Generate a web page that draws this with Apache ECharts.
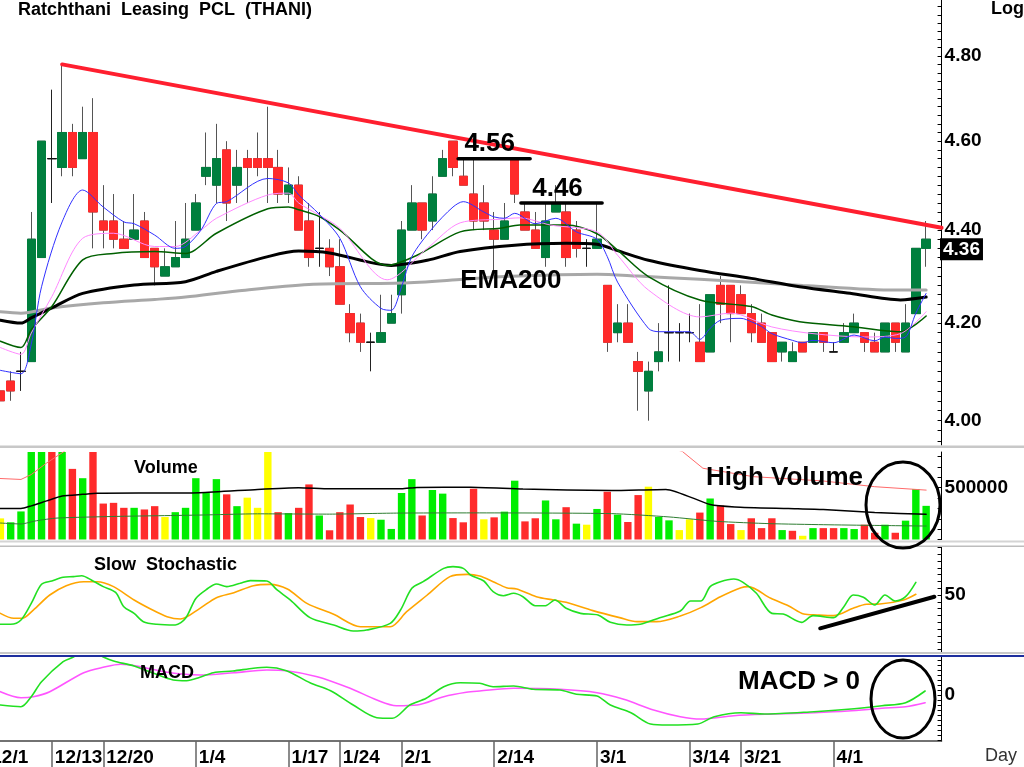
<!DOCTYPE html>
<html>
<head>
<meta charset="utf-8">
<title>THANI</title>
<script src="https://cdn.jsdelivr.net/npm/echarts/dist/echarts.min.js"></script>
<style>
html, body {margin: 0; padding: 0; background: #fff;}
#main {width: 1024px; height: 767px;}
</style>
</head>
<body>
<div id="main"></div>
<script>
// daily candles, index 0..90
const Open = [4.06,4.08,4.10,4.12,4.34,4.56,4.54,4.62,4.56,4.62,
	4.42,4.42,4.38,4.38,4.42,4.36,4.30,4.32,4.34,4.40,
	4.52,4.50,4.58,4.50,4.56,4.56,4.56,4.54,4.48,4.50,
	4.42,4.36,4.36,4.32,4.22,4.20,4.16,4.16,4.20,4.26,
	4.40,4.46,4.42,4.52,4.60,4.52,4.48,4.46,4.40,4.38,
	4.56,4.44,4.40,4.34,4.44,4.44,4.40,4.36,4.36,4.28,
	4.18,4.20,4.12,4.06,4.12,4.18,4.18,4.18,4.16,4.14,
	4.28,4.28,4.26,4.22,4.20,4.18,4.14,4.12,4.16,4.16,
	4.18,4.14,4.16,4.18,4.18,4.16,4.14,4.20,4.14,4.22,
	4.36];
const Close = [4.04,4.06,4.10,4.38,4.60,4.56,4.62,4.54,4.62,4.44,
	4.40,4.38,4.36,4.40,4.34,4.32,4.32,4.34,4.38,4.46,
	4.54,4.56,4.46,4.54,4.54,4.54,4.54,4.48,4.50,4.40,
	4.34,4.36,4.32,4.24,4.18,4.16,4.16,4.18,4.22,4.40,
	4.46,4.40,4.48,4.56,4.54,4.50,4.42,4.42,4.38,4.42,
	4.48,4.40,4.36,4.42,4.46,4.34,4.36,4.36,4.38,4.16,
	4.20,4.16,4.10,4.10,4.14,4.18,4.18,4.18,4.12,4.26,
	4.24,4.22,4.22,4.18,4.16,4.12,4.16,4.14,4.14,4.18,
	4.16,4.14,4.18,4.20,4.16,4.14,4.20,4.16,4.20,4.36,
	4.38];
const Low = [4.04,4.04,4.06,4.12,4.34,4.46,4.52,4.52,4.56,4.36,
	4.36,4.36,4.36,4.38,4.34,4.28,4.30,4.32,4.34,4.40,
	4.50,4.46,4.42,4.46,4.46,4.52,4.46,4.46,4.46,4.40,
	4.32,4.32,4.30,4.24,4.16,4.14,4.10,4.16,4.20,4.22,
	4.40,4.38,4.40,4.52,4.52,4.50,4.40,4.40,4.30,4.38,
	4.46,4.40,4.36,4.32,4.44,4.32,4.34,4.32,4.36,4.14,
	4.16,4.16,4.02,4.00,4.10,4.12,4.12,4.16,4.12,4.14,
	4.20,4.16,4.22,4.16,4.16,4.12,4.12,4.12,4.14,4.16,
	4.14,4.14,4.16,4.18,4.14,4.14,4.14,4.14,4.14,4.22,
	4.32];
const High = [4.06,4.10,4.14,4.44,4.60,4.72,4.78,4.64,4.68,4.70,
	4.50,4.48,4.42,4.48,4.44,4.36,4.36,4.42,4.46,4.48,
	4.62,4.64,4.60,4.58,4.58,4.62,4.68,4.58,4.54,4.52,
	4.46,4.44,4.38,4.38,4.24,4.22,4.18,4.26,4.26,4.42,
	4.50,4.46,4.52,4.58,4.60,4.56,4.56,4.50,4.44,4.46,
	4.56,4.46,4.44,4.46,4.50,4.46,4.42,4.38,4.46,4.28,
	4.24,4.24,4.14,4.12,4.20,4.28,4.20,4.22,4.24,4.26,
	4.30,4.28,4.28,4.24,4.22,4.18,4.16,4.16,4.16,4.18,
	4.18,4.16,4.20,4.22,4.18,4.18,4.20,4.20,4.24,4.36,
	4.42];
const lastLabel = 4.36;

// moving averages: [day, price]
const ema5 = [[0,4.102],[2,4.095],[3,4.156],[4,4.277],[6,4.418],[8,4.489],[10,4.451],[12,4.418],[13,4.414],[15,4.389],[17,4.36],[18,4.364],[19.5,4.40],[21,4.459],[22,4.463],[26,4.515],[28,4.505],[29,4.478],[31,4.435],[33,4.382],[35,4.277],[37,4.231],[38,4.227],[39,4.277],[40,4.342],[42,4.404],[44,4.451],[45,4.463],[47,4.44],[48,4.429],[49,4.426],[50,4.437],[52,4.414],[54,4.426],[56,4.396],[58,4.38],[59,4.342],[60,4.287],[63,4.189],[64,4.182],[67,4.182],[68,4.166],[69,4.189],[70,4.206],[72,4.21],[73,4.203],[74,4.193],[75,4.178],[77,4.164],[78,4.159],[79,4.164],[81,4.159],[83,4.175],[85,4.163],[86,4.171],[87,4.168],[88,4.171],[89,4.221],[90,4.263]];
const ema10 = [[0,4.149],[2,4.135],[3,4.179],[5,4.256],[8,4.382],[11,4.393],[15,4.364],[17,4.364],[19.5,4.40],[21,4.426],[26,4.478],[28,4.482],[29,4.46],[31,4.433],[33,4.404],[37.6,4.292],[41.5,4.36],[44.7,4.416],[48.6,4.424],[50.5,4.427],[53.5,4.411],[58,4.396],[60,4.345],[63,4.27],[68,4.213],[71,4.221],[75,4.192],[79,4.178],[84,4.171],[87.5,4.178],[90,4.224]];
const ema25 = [[0,4.162],[2,4.149],[3,4.186],[5,4.235],[8,4.335],[11,4.349],[15,4.353],[18,4.349],[21,4.393],[26,4.447],[28,4.451],[29,4.445],[31,4.43],[33,4.40],[37.6,4.323],[40.5,4.345],[44.7,4.396],[48.6,4.404],[50.5,4.411],[55,4.411],[58,4.392],[60,4.356],[63,4.299],[68,4.249],[73,4.235],[75,4.217],[77.7,4.203],[82.6,4.193],[87.5,4.182],[90,4.215]];
const ema75 = [[0,4.206],[2,4.20],[3,4.211],[5,4.232],[8,4.263],[13,4.281],[18,4.288],[21,4.31],[26,4.342],[29,4.354],[32,4.35],[38,4.323],[41.5,4.334],[44.7,4.353],[50,4.367],[55,4.371],[58,4.369],[60,4.355],[63,4.334],[68,4.312],[73,4.295],[77.7,4.277],[82.6,4.263],[87.5,4.249],[90,4.255]];
const ema200 = [[0,4.224],[2,4.221],[5,4.232],[10,4.243],[15,4.25],[18,4.255],[23,4.268],[30,4.282],[39,4.285],[45,4.293],[49,4.299],[58,4.304],[62,4.30],[68,4.293],[78,4.28],[87,4.27],[90,4.27]];
const trendLine = [[6,4.78],[91.5,4.405]];
const level456 = [[44.5,4.56],[51.5,4.56]];
const level446 = [[50.6,4.46],[58.5,4.46]];

// volume, direction 1 up / -1 down / 0 flat
const volume = [204000,166000,271000,900000,900000,900000,900000,682000,592000,900000,
	347000,354000,306000,306000,290000,322000,217000,264000,306000,592000,
	449000,583000,436000,322000,404000,306000,900000,264000,255000,306000,
	532000,232000,89000,264000,338000,217000,207000,191000,102000,449000,
	583000,232000,478000,443000,207000,166000,490000,195000,214000,269000,
	568000,175000,205000,377000,195000,312000,153000,143000,295000,461000,
	240000,169000,429000,510000,218000,185000,91000,195000,260000,396000,
	328000,149000,91000,205000,110000,205000,91000,84000,36000,110000,
	110000,110000,110000,101000,143000,65000,143000,65000,182000,487000,
	325000];
const volDir = [0,1,1,1,1,-1,1,-1,1,-1,
	-1,-1,-1,1,-1,-1,0,1,1,1,
	1,1,-1,1,0,0,0,-1,1,-1,
	-1,1,-1,-1,-1,-1,0,1,1,1,
	1,-1,1,1,-1,-1,-1,0,-1,1,
	1,-1,-1,1,1,-1,1,0,1,-1,
	1,-1,-1,0,1,1,0,0,-1,1,
	-1,-1,0,-1,-1,-1,1,-1,0,1,
	-1,-1,1,1,-1,-1,1,-1,1,1,
	1];
const volMaLong = [[0,299000],[2,299000],[3,325000],[4.5,373000],[6,420000],[8,436000],[9.4,446000],[19.4,452000],[25,484000],[29,500000],[32,490000],[39,490000],[40.5,503000],[45.7,505000],[50.8,487000],[59.4,474000],[64.7,484000],[69,338000],[71.4,315000],[76.6,299000],[80,289000],[85,260000],[90,244000]];
const volMaShort = [[0,159000],[2,150000],[3.5,181000],[5.5,207000],[11.3,223000],[19.4,236000],[25,248000],[32,245000],[38.5,255000],[46,257000],[59.4,250000],[65,218000],[69.7,175000],[74.8,153000],[80,143000],[85,136000],[90,130000]];
const volMaTop = [[0,589000],[2,580000],[3,627000],[4.5,739000],[5.7,818000],[6.5,870000],[9,980000],[62,980000],[66.3,850000],[68.3,688000],[73.2,607000],[80,565000],[85,510000],[90,477000]];

// slow stochastic
const stochK = [[0,6.9],[1,6.9],[2,13.2],[3,37.7],[4,65.7],[5,70.6],[6.1,76],[7.1,77],[7.9,78.4],[9,70.6],[10,62.3],[11.2,53.9],[12,32.8],[13,23],[13.9,10.8],[15.2,6.9],[17,5.9],[18,15.7],[19,45],[20.1,58.8],[21,66.2],[22,62.3],[23.3,67.2],[24.3,71.1],[25.9,70.6],[26.9,57.4],[28.2,42.6],[30.1,16.7],[32.4,5.9],[34.3,-2.9],[35.6,-1.5],[37.9,8.3],[38.9,27.9],[40,59.8],[41.1,69.6],[43.1,89.2],[44,91.7],[45,89.2],[45.7,79.4],[47,70.6],[47.9,54.9],[48.9,49],[49.9,52.5],[50.8,47.5],[52,34.3],[53,34.3],[53.9,42.6],[55,30.4],[56.4,23],[58.1,20.6],[59.3,9.8],[60.9,5.9],[62.2,6.9],[64.1,16.7],[66.1,26.5],[67.1,41.2],[68.1,41.2],[69,62.3],[70,69.6],[71.3,73.5],[72.2,68.6],[73.5,52.5],[75,23],[76.1,22],[77.9,9.8],[79,19.6],[81,16.7],[82,32.8],[82.9,50],[83.9,46.6],[85,35.3],[86,50],[87,41.2],[88,47.5],[89,68.6]];
const stochD = [[0,23],[1.3,15.7],[2.1,15.7],[3.2,27.9],[4.8,50],[6.4,63.7],[8.1,69.6],[9.4,69.6],[11,62.3],[13,42.6],[14.6,29.4],[16.2,18.1],[17.5,14.7],[19.4,30.4],[21,46.1],[22.7,53.4],[24.6,63.7],[26.2,65.7],[27.9,58.8],[29.8,37.7],[32.4,21.6],[35,3.4],[37.9,3.4],[39.5,25.5],[41.5,50],[43.7,77],[45.4,80.4],[46.6,77.9],[47.9,69.6],[49.2,60.8],[50.2,58.8],[52.1,47.5],[53.8,42.6],[55,39.2],[57.6,27],[60.2,16.7],[61.9,10.8],[63.8,10.8],[66.1,19.1],[68.1,31.4],[70,47.5],[72,60.8],[72.7,62.3],[74.9,45.1],[76.6,34.3],[78.1,22],[79.4,20.6],[81,19.6],[82.9,30.4],[84.2,36.3],[85.5,36.8],[87.8,42.6],[89,51]];
const stochTrend = [[79.7,1.0],[90.8,47.5]];

// MACD
const macd = [[0,-0.010],[2,-0.0117],[3,-0.0017],[4,0.0133],[6.1,0.0333],[7.1,0.038],[8.5,0.046],[10,0.038],[11,0.034],[13,0.029],[14.9,0.0217],[16.8,0.015],[18.1,0.0143],[19.4,0.0177],[20.7,0.0223],[22.6,0.024],[24.6,0.0267],[25.9,0.0277],[27.8,0.0243],[30.1,0.0123],[32.1,0.0043],[34.3,-0.010],[36.6,-0.0227],[38.1,-0.0233],[39.8,-0.010],[41.4,-0.0033],[43.1,0.0083],[44.7,0.0123],[46.6,0.0117],[47.9,0.0083],[49.9,0.009],[51.8,0.0057],[54.4,0.005],[56,0.0007],[58,-0.001],[59.3,-0.010],[61.3,-0.0177],[63.2,-0.029],[64.9,-0.030],[67.8,-0.029],[69.4,-0.0217],[72,-0.0177],[74.3,-0.019],[79.1,-0.0167],[82.4,-0.0143],[85.7,-0.0107],[88,-0.0077],[89.9,0.004]];
const signal = [[0,0.0033],[2,-0.0027],[3.2,-0.0017],[4.8,0.0033],[8.1,0.0223],[10,0.0277],[11.7,0.0307],[13.6,0.0283],[16.2,0.0227],[19.4,0.020],[22.7,0.0223],[25.9,0.025],[27.8,0.0243],[30.8,0.0183],[34,0.0067],[36.6,-0.005],[38.5,-0.0107],[40.5,-0.010],[43.1,-0.0017],[45.3,0.0027],[46.6,0.004],[49.9,0.0067],[54.4,0.0057],[58,0.0023],[60.6,-0.0043],[63.5,-0.015],[66.1,-0.0217],[68.1,-0.024],[71.3,-0.0207],[75.2,-0.019],[79.1,-0.0177],[82.4,-0.016],[85.7,-0.0133],[88,-0.0117],[89.9,-0.0077]];

// date ticks (first one sits just off the left edge)
const tickIdx = [-1, 5, 10, 19, 28, 33, 39, 48, 58, 67, 72, 81];
const tickLbl = ['12/1', '12/13', '12/20', '1/4', '1/17', '1/24', '2/1', '2/14', '3/1', '3/14', '3/21', '4/1'];

const FONT = '"Liberation Sans", Arial, sans-serif';
const UP = '#007F3E', DN = '#FF2B2B', WICK = '#555555';
const ln = v => Math.log(v);
const lnPts = pts => pts.map(p => [p[0], ln(p[1])]);
const range = (a, b, s) => { const r = []; for (let v = a; v <= b + s / 2; v += s) r.push(+v.toFixed(6)); return r; };

const cats = [];
for (let c = 0; c < 93; c++) cats.push('c' + c);

const wickData = Open.map((o, i) => [i + 1, ln(o), ln(Close[i]), ln(Low[i]), ln(High[i])]);
const bodyData = Open.map((o, i) => [i + 1, ln(o), ln(Close[i]), ln(Math.min(o, Close[i])), ln(Math.max(o, Close[i]))]);
const volColor = {'1': '#00EE00', '-1': '#FF2B2B', '0': '#FFFF00'};
const volData = volume.map((v, i) => ({value: [i + 1, v], itemStyle: {color: volColor[volDir[i]]}}));
// label of the first date is nudged a little further left than its tick
const labelIdx = tickIdx.map((t, k) => k === 0 ? t - 0.18 : t);

const G = {left: -15.03, width: 956.6, containLabel: false, outerBoundsMode: 'none'};
const rightLabel = {show: true, margin: 3, color: '#000', fontSize: 19, fontWeight: 'bold', fontFamily: FONT};
const rightLine = {show: true, onZero: false, lineStyle: {color: '#000', width: 1}};
const rightTick = {show: true, inside: true, length: 4, lineStyle: {color: '#000', width: 1}};

function line(xi, yi, data, color, width, smooth, z) {
	return {
		type: 'line', xAxisIndex: xi, yAxisIndex: yi, data: data, symbol: 'none', showSymbol: false,
		smooth: smooth, silent: true, z: z || 3, lineStyle: {color: color, width: width, cap: 'round'}
	};
}

function text(str, x, y, size, align, weight, color) {
	return {
		type: 'text', x: x, y: y, z: 100, silent: true,
		style: {text: str, font: (weight || 'bold') + ' ' + size + 'px ' + FONT, fill: color || '#000', textAlign: align || 'left', textVerticalAlign: 'middle'}
	};
}

function band(y, h, color) {
	return {type: 'rect', z: 50, silent: true, shape: {x: 0, y: y, width: 1024, height: h}, style: {fill: color}};
}

const option = {
	animation: false,
	backgroundColor: '#fff',
	textStyle: {fontFamily: FONT},
	grid: [
		Object.assign({top: 0, height: 445}, G),
		Object.assign({top: 452, height: 87.5}, G),
		Object.assign({top: 547, height: 106}, G),
		Object.assign({top: 657, height: 84}, G)
	],
	xAxis: [
		{type: 'category', gridIndex: 0, data: cats, show: false},
		{type: 'value', gridIndex: 0, min: -1.5, max: 91.5, show: false},
		{type: 'category', gridIndex: 1, data: cats, show: false},
		{type: 'value', gridIndex: 1, min: -1.5, max: 91.5, show: false},
		{type: 'value', gridIndex: 2, min: -1.5, max: 91.5, show: false},
		{
			type: 'value', gridIndex: 3, min: -1.5, max: 91.5, position: 'bottom',
			splitLine: {show: false},
			axisLine: {show: true, onZero: false, lineStyle: {color: '#444', width: 1.5}},
			axisTick: {show: true, customValues: tickIdx, length: 26, lineStyle: {color: '#666', width: 1.5}},
			axisLabel: {
				show: true, customValues: labelIdx, align: 'left', padding: [0, 0, 0, 3], margin: 7,
				color: '#000', fontSize: 19, fontWeight: 'bold', fontFamily: FONT,
				formatter: v => tickLbl[tickIdx.indexOf(Math.round(v))] || ''
			}
		}
	],
	yAxis: [
		{
			type: 'value', gridIndex: 0, position: 'right', min: 1.374144, max: 1.596644,
			splitLine: {show: false}, axisLine: rightLine,
			axisTick: Object.assign({customValues: range(3.96, 4.92, 0.02).map(ln)}, rightTick),
			axisLabel: Object.assign({customValues: [4.0, 4.2, 4.4, 4.6, 4.8].map(ln), formatter: v => Math.exp(v).toFixed(2)}, rightLabel)
		},
		{
			type: 'value', gridIndex: 1, position: 'right', min: 0, max: 845000,
			splitLine: {show: false}, axisLine: rightLine,
			axisTick: Object.assign({customValues: range(0, 800000, 100000)}, rightTick),
			axisLabel: Object.assign({customValues: [500000], formatter: v => String(Math.round(v))}, rightLabel)
		},
		{
			type: 'value', gridIndex: 2, position: 'right', min: -35.3, max: 120.6,
			splitLine: {show: false}, axisLine: rightLine,
			axisTick: Object.assign({customValues: range(-30, 120, 10)}, rightTick),
			axisLabel: Object.assign({customValues: [50], formatter: v => String(Math.round(v))}, rightLabel)
		},
		{
			type: 'value', gridIndex: 3, position: 'right', min: -0.046, max: 0.038,
			splitLine: {show: false}, axisLine: rightLine,
			axisTick: Object.assign({customValues: range(-0.045, 0.035, 0.005)}, rightTick),
			axisLabel: Object.assign({customValues: [0], formatter: () => '0'}, rightLabel)
		}
	],
	series: [
		{
			type: 'candlestick', xAxisIndex: 0, yAxisIndex: 0, data: wickData, z: 2, silent: true,
			dimensions: ['day', 'open', 'close', 'lowest', 'highest'], encode: {x: 0, y: [1, 2, 3, 4]},
			barWidth: 9,
			itemStyle: {color: WICK, color0: WICK, borderColor: WICK, borderColor0: WICK, borderColorDoji: '#222', borderWidth: 1}
		},
		{
			type: 'candlestick', xAxisIndex: 0, yAxisIndex: 0, data: bodyData, z: 2, silent: true,
			dimensions: ['day', 'open', 'close', 'lowest', 'highest'], encode: {x: 0, y: [1, 2, 3, 4]},
			barWidth: 9,
			itemStyle: {color: UP, color0: DN, borderColor: UP, borderColor0: DN, borderColorDoji: '#111', borderWidth: 1}
		},
		line(1, 0, lnPts(ema200), '#A8A8A8', 3, 0.3),
		line(1, 0, lnPts(ema75), '#000000', 3, 0.3),
		line(1, 0, lnPts(ema25), '#006000', 1.5, 0.3),
		line(1, 0, lnPts(ema10), '#FF88FF', 1, 0.3),
		line(1, 0, lnPts(ema5), '#3030FF', 1, 0.3),
		line(1, 0, lnPts(trendLine), '#FF1F2F', 4, false, 5),
		line(1, 0, lnPts(level456), '#000', 3.5, false, 5),
		line(1, 0, lnPts(level446), '#000', 3.5, false, 5),
		{type: 'bar', xAxisIndex: 2, yAxisIndex: 1, data: volData, barWidth: 7.4, silent: true, z: 2},
		line(3, 1, volMaTop, '#FF6A6A', 1, false),
		line(3, 1, volMaShort, '#2E7D32', 1, 0.2),
		line(3, 1, volMaLong, '#000', 1.5, 0.2),
		line(4, 2, stochD, '#FFA500', 1.6, 0.3),
		line(4, 2, stochK, '#22E022', 1.6, 0.3),
		line(4, 2, stochTrend, '#000', 4, false, 5),
		line(5, 3, signal, '#FF55FF', 1.6, 0.3),
		line(5, 3, macd, '#22E022', 1.6, 0.3)
	],
	graphic: [
		band(445.5, 2.5, '#C8C8C8'),
		band(540.5, 2, '#D4D4D4'),
		band(545.5, 1.5, '#BDBDBD'),
		band(652, 2, '#C8C8C8'),
		band(655, 2, '#1E2E9E'),
		text('Ratchthani  Leasing  PCL  (THANI)', 18, 10, 18),
		text('Log', 991, 9, 18),
		text('4.56', 489.7, 144, 26, 'center'),
		text('4.46', 557.5, 189, 26, 'center'),
		text('EMA200', 510.8, 281, 26, 'center'),
		text('Volume', 134, 468, 18),
		text('High Volume', 706, 478, 26),
		text('Slow  Stochastic', 94, 565, 18),
		text('MACD', 140, 673, 18),
		text('MACD > 0', 738, 682, 26),
		text('Day', 985, 756, 18, 'left', 'normal', '#333'),
		{type: 'ellipse', z: 100, silent: true, shape: {cx: 903, cy: 505, rx: 37, ry: 43}, style: {fill: 'none', stroke: '#000', lineWidth: 3}},
		{type: 'ellipse', z: 100, silent: true, shape: {cx: 903, cy: 699, rx: 32, ry: 39}, style: {fill: 'none', stroke: '#000', lineWidth: 3}}
	]
};

const chart = echarts.init(document.getElementById('main'), null, {renderer: 'canvas'});
chart.setOption(option);

// last price tag on the price axis
const tagY = chart.convertToPixel({yAxisIndex: 0}, ln(lastLabel));
option.graphic.push({
	type: 'text', x: 940, y: tagY + 1, z: 110, silent: true,
	style: {
		text: lastLabel.toFixed(2), font: 'bold 19px ' + FONT, fill: '#fff', backgroundColor: '#000',
		padding: [2, 3, 1, 3], textAlign: 'left', textVerticalAlign: 'middle'
	}
});
chart.setOption({graphic: option.graphic});
</script>
</body>
</html>
